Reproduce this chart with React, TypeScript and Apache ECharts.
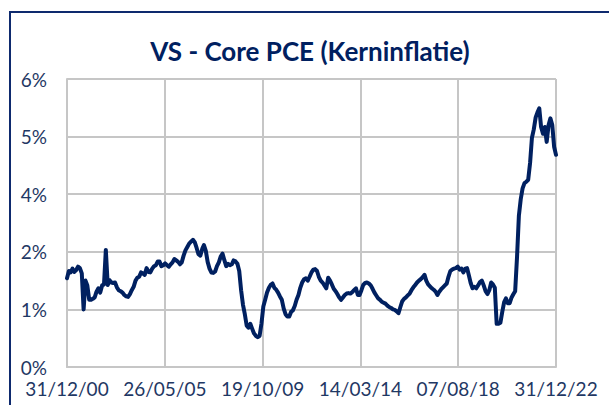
import React, { useEffect, useRef } from "react";
import * as echarts from "echarts";

// Core PCE, year-on-year %, monthly (month-end), Dec 2000 .. Dec 2022
const START = { year: 2000, month: 11 }; // December 2000
const pce2000_2004 = [
  1.85, 2.0, 1.97, 2.05, 1.98, 2.02, 2.09, 2.06, 1.95, 1.2, 1.8, 1.7, 1.4,
  1.4, 1.42, 1.45, 1.57, 1.64, 1.55, 1.7, 1.72, 2.44, 1.71, 1.81, 1.76,
  1.75, 1.76, 1.66, 1.6, 1.58, 1.55, 1.5, 1.47, 1.46, 1.52, 1.6, 1.67,
  1.8, 1.86, 1.88, 1.97, 1.95, 1.92, 2.06, 1.98, 1.97, 2.05, 2.1, 2.12,
];
const pce2005_2009 = [
  2.2, 2.2, 2.1, 2.12, 2.16, 2.12, 2.09, 2.14, 2.18, 2.25, 2.22, 2.19,
  2.14, 2.18, 2.32, 2.43, 2.5, 2.57, 2.61, 2.65, 2.6, 2.48, 2.35, 2.32,
  2.46, 2.54, 2.42, 2.19, 2.05, 1.97, 1.96, 1.99, 2.1, 2.18, 2.3, 2.36,
  2.22, 2.1, 2.15, 2.12, 2.14, 2.22, 2.2, 2.15, 2.0, 1.6, 1.3, 1.1,
  0.86, 0.82, 0.9, 0.8, 0.7, 0.65, 0.62, 0.65, 0.9, 1.26, 1.4, 1.55,
];
const pce2010_2014 = [
  1.65, 1.71, 1.74, 1.65, 1.61, 1.55, 1.47, 1.4, 1.22, 1.1, 1.05, 1.05,
  1.15, 1.18, 1.27, 1.4, 1.5, 1.65, 1.76, 1.83, 1.85, 1.8, 1.88, 1.97,
  2.03, 2.04, 2.0, 1.88, 1.8, 1.76, 1.7, 1.64, 1.86, 1.8, 1.72, 1.63,
  1.58, 1.52, 1.45, 1.4, 1.45, 1.5, 1.53, 1.54, 1.53, 1.56, 1.6, 1.64,
  1.5, 1.5, 1.6, 1.71, 1.75, 1.76, 1.74, 1.7, 1.63, 1.55, 1.49, 1.43,
];
const pce2015_2019 = [
  1.4, 1.36, 1.34, 1.32, 1.28, 1.25, 1.23, 1.2, 1.19, 1.16, 1.12, 1.25,
  1.37, 1.42, 1.45, 1.49, 1.53, 1.6, 1.66, 1.71, 1.76, 1.8, 1.83, 1.87,
  1.92, 1.8, 1.72, 1.68, 1.64, 1.61, 1.57, 1.5, 1.57, 1.62, 1.66, 1.7,
  1.74, 1.88, 2.0, 2.03, 2.05, 2.06, 2.09, 2.03, 2.05, 1.97, 2.05, 2.06,
  1.9, 1.75, 1.64, 1.67, 1.64, 1.7, 1.77, 1.8, 1.7, 1.58, 1.52, 1.6,
];
const pce2020_2022 = [
  1.76, 1.72, 1.65, 0.9, 0.9, 0.92, 1.15, 1.35, 1.43, 1.33, 1.33, 1.45,
  1.52, 1.58, 2.3, 3.15, 3.5, 3.72, 3.83, 3.86, 3.9, 4.25, 4.77, 4.95,
  5.2, 5.3, 5.39, 5.0, 4.86, 5.0, 4.69, 5.04, 5.18, 5.04, 4.59, 4.42,
];
const pceValues = [
  ...pce2000_2004,
  ...pce2005_2009,
  ...pce2010_2014,
  ...pce2015_2019,
  ...pce2020_2022,
];

// x axis: days since 31/12/2000, ticks every 1607 days up to 31/12/2022
const AXIS_START = Date.UTC(2000, 11, 31);
const AXIS_END_DAYS = 8035;
const AXIS_STEP_DAYS = 1607;
const DAY = 86400000;

const Y_MIN = 0;
const Y_MAX = 6;
const Y_STEP = 1.2;

const TITLE = "VS - Core PCE (Kerninflatie)";
const NAVY = "#002060";
const LABEL = "#1F3864";
const GRID = "#C6C6C6";

function pad(n: number) {
  return n < 10 ? "0" + n : String(n);
}
function fmtDay(d: number) {
  const dt = new Date(AXIS_START + Math.round(d) * DAY);
  return (
    pad(dt.getUTCDate()) +
    "/" +
    pad(dt.getUTCMonth() + 1) +
    "/" +
    pad(dt.getUTCFullYear() % 100)
  );
}

export default function App() {
  const ref = useRef<HTMLDivElement>(null);

  useEffect(() => {
    if (!ref.current) return;
    const chart = echarts.init(ref.current, undefined, { renderer: "svg" });
    const data = pceValues.map((v, i) => {
      const t = Date.UTC(START.year, START.month + 1 + i, 0);
      return [(t - AXIS_START) / DAY, v];
    });
    chart.setOption({
      animation: false,
      backgroundColor: "#ffffff",
      title: {
        text: TITLE,
        left: 305,
        top: 33,
        textAlign: "center",
        textStyle: {
          fontFamily: "Lato",
          fontWeight: "bold",
          fontSize: 26,
          color: NAVY,
        },
      },
      graphic: [
        {
          type: "rect",
          shape: { x: 10, y: 12, width: 800, height: 600 },
          style: { fill: "none", stroke: "#0E2A6E", lineWidth: 2 },
          silent: true,
        },
      ],
      grid: { left: 67, right: 53, top: 79, bottom: 38, containLabel: false },
      xAxis: {
        type: "value",
        min: 0,
        max: AXIS_END_DAYS,
        interval: AXIS_STEP_DAYS,
        axisLine: { show: true, lineStyle: { color: GRID, width: 2 } },
        axisTick: { show: false },
        splitLine: { show: true, lineStyle: { color: GRID, width: 2 } },
        axisLabel: {
          formatter: (v: number) => fmtDay(v),
          fontFamily: "Lato",
          fontSize: 19,
          color: LABEL,
          margin: 12,
          showMinLabel: true,
          showMaxLabel: true,
        },
      },
      yAxis: {
        type: "value",
        min: Y_MIN,
        max: Y_MAX,
        interval: Y_STEP,
        axisLine: { show: true, lineStyle: { color: GRID, width: 2 } },
        axisTick: { show: false },
        splitLine: { show: true, lineStyle: { color: GRID, width: 2 } },
        axisLabel: {
          formatter: (v: number) => Math.round(v) + "%",
          fontFamily: "Lato",
          fontSize: 19,
          color: LABEL,
          margin: 20,
        },
      },
      series: [
        {
          type: "line",
          data,
          showSymbol: false,
          smooth: false,
          lineStyle: { color: NAVY, width: 4, join: "round", cap: "round" },
          clip: false,
        },
      ],
    });
    return () => chart.dispose();
  }, []);

  return (
    <div
      style={{
        position: "fixed",
        left: 0,
        top: 0,
        width: 609,
        height: 405,
        background: "#fff",
      }}
    >
      <div ref={ref} style={{ width: 609, height: 405 }} />
    </div>
  );
}
